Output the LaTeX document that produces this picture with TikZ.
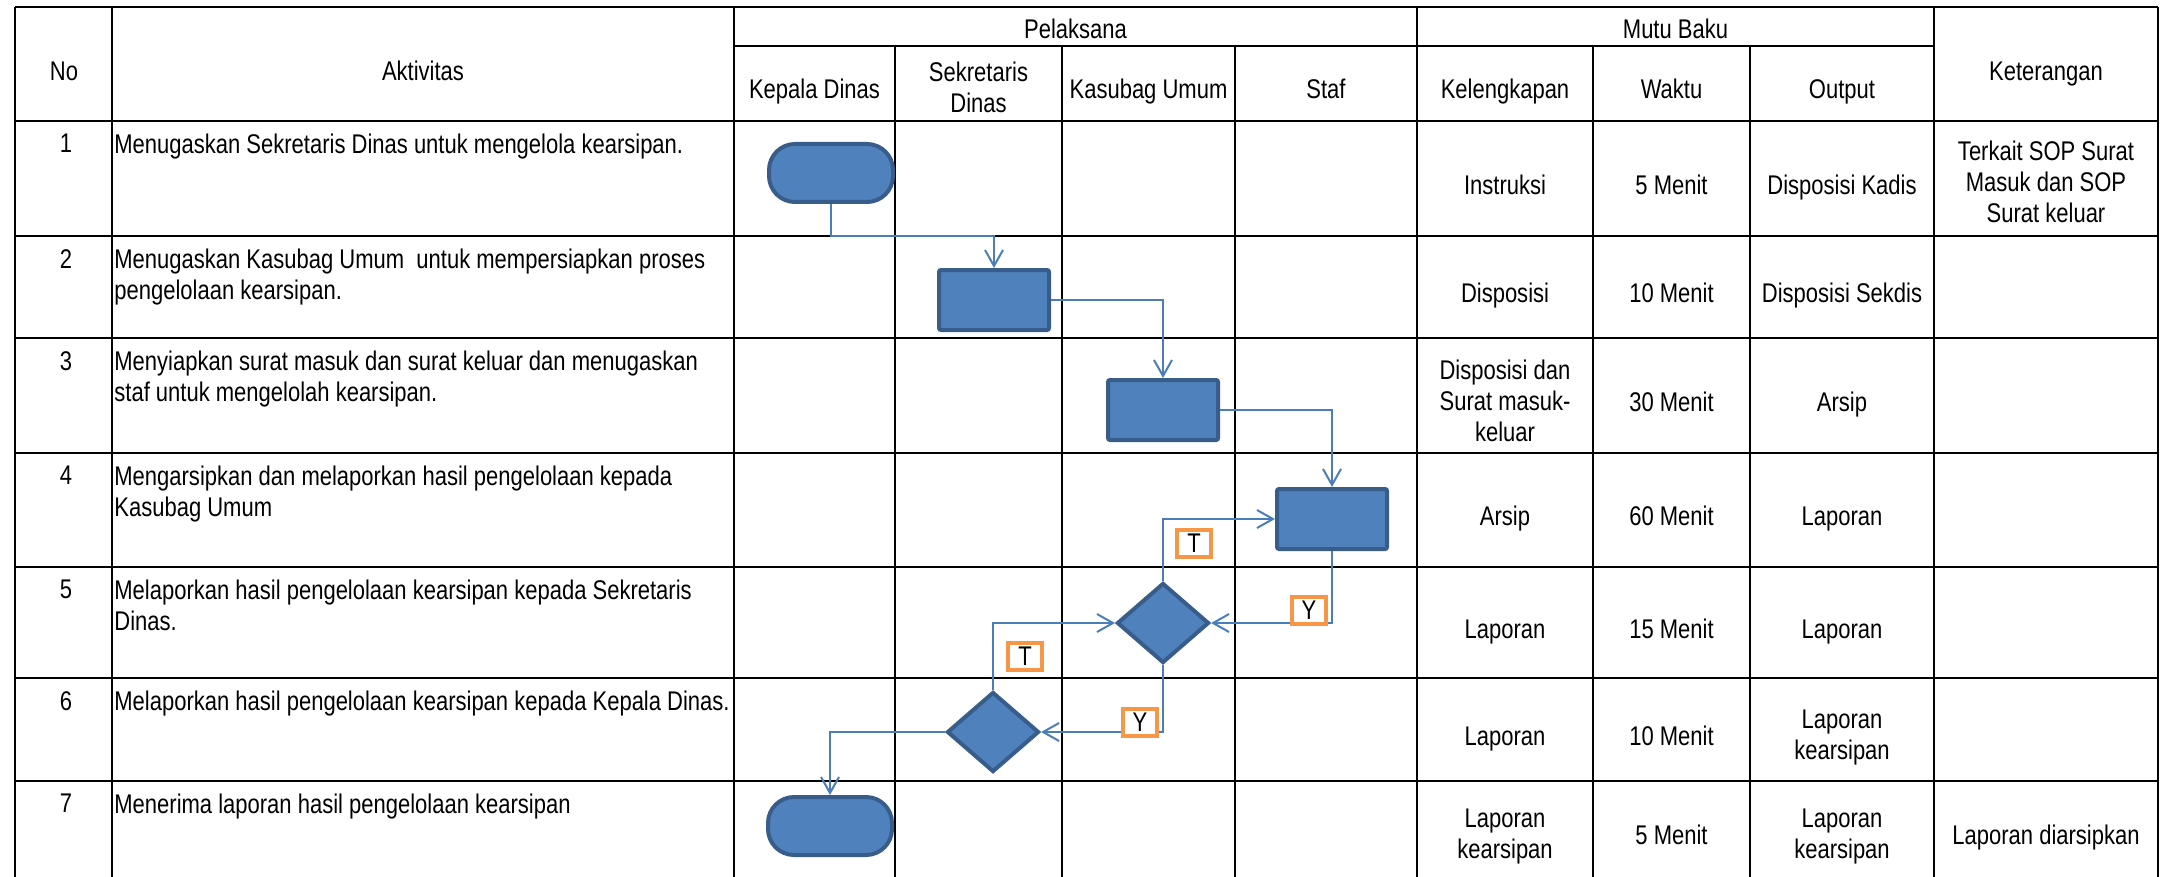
\documentclass[tikz,border=0pt]{standalone}
\usepackage{fontspec}
\setmainfont{Liberation Sans}[FakeStretch=0.815]
\usetikzlibrary{positioning,arrows.meta,shapes.geometric}
\definecolor{shapefill}{HTML}{4F81BD}
\definecolor{shapeline}{HTML}{385D8A}
\definecolor{flowline}{HTML}{4A7EBB}
\definecolor{tagline}{HTML}{F79646}

\begin{document}
\begin{tikzpicture}[
  x=0.5pt, y=-0.5pt,
  >={Straight Barb[length=8pt,width=9pt]},
  every node/.style={font=\fontsize{13.5}{15.5}\selectfont, inner sep=0pt},
  tbl/.style={line width=1.3pt},
  cell/.style={align=center, execute at begin node=\strut, execute at end node=\strut},
  akt/.style={anchor=north west, align=left},
  term/.style={draw=shapeline, fill=shapefill, line width=2pt, rounded corners=13pt, minimum width=62pt, minimum height=29pt},
  proc/.style={draw=shapeline, fill=shapefill, line width=2pt, rounded corners=1pt, minimum width=55pt, minimum height=30pt},
  dec/.style={diamond, draw=shapeline, fill=shapefill, line width=2pt, minimum width=46pt, minimum height=40pt},
  flow/.style={->, draw=flowline, line width=1pt},
  tag/.style={draw=tagline, fill=white, line width=2pt, minimum width=17pt, minimum height=13.5pt}
]
  \useasboundingbox (0,0) rectangle (2161,877);

  % table
  \draw[tbl] (15,7) -- (2158,7);
  \draw[tbl] (734,46) -- (1934,46);
  \foreach \y in {121,236,338,453,567,678,781}
    \draw[tbl] (15,\y) -- (2158,\y);
  \foreach \x in {15,112,734,1417,1934,2158}
    \draw[tbl] (\x,7) -- (\x,877);
  \foreach \x in {895,1062,1235,1593,1750}
    \draw[tbl] (\x,46) -- (\x,877);

  % header
  \node[cell] (hNo) at (64,74) {No};
  \node[cell] (hAkt) at (423,74) {Aktivitas};
  \node[cell] (hPel) at (1075.5,32) {Pelaksana};
  \node[cell] (hMutu) at (1675.5,32) {Mutu Baku};
  \node[cell] (hKet) at (2046,74) {Keterangan};
  \node[cell] (hKd) at (814.5,92) {Kepala Dinas};
  \node[cell] (hSd) at (978.5,92) {Sekretaris\\Dinas};
  \node[cell] (hKu) at (1148.5,92) {Kasubag Umum};
  \node[cell] (hSt) at (1326,92) {Staf};
  \node[cell] (hKel) at (1505,92) {Kelengkapan};
  \node[cell] (hWkt) at (1671.5,92) {Waktu};
  \node[cell] (hOut) at (1842,92) {Output};

  % rows
  \foreach \n/\top/\txt in {
      1/121/{Menugaskan Sekretaris Dinas untuk mengelola kearsipan.},
      2/236/{Menugaskan Kasubag Umum~ untuk mempersiapkan proses\\pengelolaan kearsipan.},
      3/338/{Menyiapkan surat masuk dan surat keluar dan menugaskan\\staf untuk mengelolah kearsipan.},
      4/453/{Mengarsipkan dan melaporkan hasil pengelolaan kepada\\Kasubag Umum},
      5/567/{Melaporkan hasil pengelolaan kearsipan kepada Sekretaris\\Dinas.},
      6/678/{Melaporkan hasil pengelolaan kearsipan kepada Kepala Dinas.},
      7/781/{Menerima laporan hasil pengelolaan kearsipan}}
  {
    \node[anchor=north] (no\n) at (66,\top+13) {\n};
    \node[akt] (akt\n) at (114,\top+13) {\txt};
  }
  \foreach \n/\yc/\kel/\wkt/\out in {
      1/188/Instruksi/5 Menit/Disposisi Kadis,
      2/296.5/Disposisi/10 Menit/Disposisi Sekdis,
      3/405/{Disposisi dan\\Surat masuk-\\keluar}/30 Menit/Arsip,
      4/519.5/Arsip/60 Menit/Laporan,
      5/632/Laporan/15 Menit/Laporan,
      6/739/Laporan/10 Menit/{Laporan\\kearsipan},
      7/838.5/{Laporan\\kearsipan}/5 Menit/{Laporan\\kearsipan}}
  {
    \node[cell] (kel\n) at (1505,\yc) {\kel};
    \node[cell] (wkt\n) at (1671.5,\yc) {\wkt};
    \node[cell] (out\n) at (1842,\yc) {\out};
  }
  \node[cell] (ket1) at (2046,186) {Terkait SOP Surat\\Masuk dan SOP\\Surat keluar};
  \node[cell] (ket7) at (2046,838.5) {Laporan diarsipkan};

  % flow
  \coordinate (r2) at (0,236);
  \node[term] (t1) at (831,173) {};
  \node[proc] (b1) at (994,300) {};
  \node[proc] (b2) at (1163,410) {};
  \node[proc] (b3) at (1332,519) {};
  \node[dec] (d1) at (1163,623) {};
  \node[dec] (d2) at (993,732) {};
  \node[term] (t2) at (830,826) {};

  \draw[flow] (t1.south) |- (b1.north |- r2) -- (b1.north);
  \draw[flow] (b1.east) -| (b2.north);
  \draw[flow] (b2.east) -| (b3.north);
  \draw[flow] (b3.south) |- (d1.east);
  \draw[flow] (d1.north) |- (b3.west);
  \draw[flow] (d1.south) |- (d2.east);
  \draw[flow] (d2.north) |- (d1.west);
  \draw[flow] (d2.west) -| (t2.north);

  \node[tag] (y1) at (1309,610) {Y};
  \node[tag] (tt1) at (1194,543) {T};
  \node[tag] (y2) at (1140,722) {Y};
  \node[tag] (tt2) at (1025,656) {T};
\end{tikzpicture}
\end{document}
